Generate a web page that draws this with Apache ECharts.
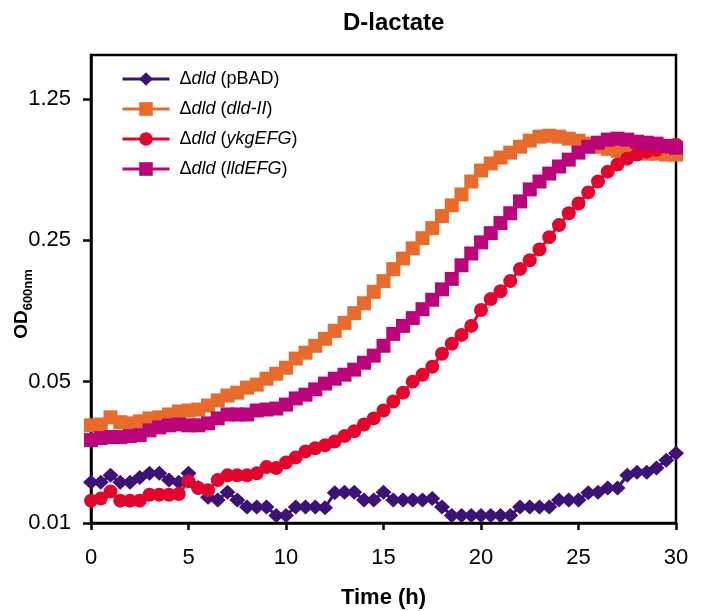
<!DOCTYPE html>
<html>
<head>
<meta charset="utf-8">
<title>D-lactate</title>
<script src="https://cdn.jsdelivr.net/npm/echarts@6/dist/echarts.min.js"></script>
<style>
    html, body { margin: 0; padding: 0; background: #fff; }
    #chart { width: 702px; height: 611px; }
</style>
</head>
<body>
<div id="chart"></div>
<script>
// sampling times (h)
const times = [0, 0.5, 1, 1.5, 2, 2.5, 3, 3.5, 4, 4.5, 5, 5.5, 6, 6.5, 7, 7.5, 8, 8.5, 9, 9.5,
    10, 10.5, 11, 11.5, 12, 12.5, 13, 13.5, 14, 14.5, 15, 15.5, 16, 16.5, 17, 17.5, 18, 18.5, 19, 19.5,
    20, 20.5, 21, 21.5, 22, 22.5, 23, 23.5, 24, 24.5, 25, 25.5, 26, 26.5, 27, 27.5, 28, 28.5, 29, 29.5, 30];

// OD600 values per strain
const pBAD = [0.0159, 0.0159, 0.0172, 0.0159, 0.0159, 0.0168, 0.0176, 0.0176, 0.0163, 0.0159,
    0.0176, 0.0150, 0.0134, 0.0130, 0.0142, 0.0130, 0.0120, 0.0120, 0.0120, 0.0109,
    0.0109, 0.0120, 0.0120, 0.0120, 0.0119, 0.0141, 0.0142, 0.0142, 0.0130, 0.0130,
    0.0142, 0.0130, 0.0130, 0.0130, 0.0130, 0.0132, 0.0120, 0.0109, 0.0109, 0.0109,
    0.0109, 0.0109, 0.0109, 0.0109, 0.0120, 0.0120, 0.0120, 0.0120, 0.0130, 0.0130,
    0.0130, 0.0141, 0.0142, 0.0149, 0.0149, 0.0172, 0.0178, 0.0178, 0.0187, 0.0204, 0.0221];
const dldII = [0.0304, 0.0307, 0.0333, 0.0315, 0.0311, 0.0318, 0.0329, 0.0333, 0.0344, 0.0356,
    0.0360, 0.0364, 0.0381, 0.0404, 0.0427, 0.0441, 0.0467, 0.0483, 0.0517, 0.0547,
    0.0586, 0.0650, 0.0695, 0.0752, 0.0814, 0.0891, 0.0976, 0.109, 0.122, 0.139,
    0.157, 0.180, 0.203, 0.228, 0.256, 0.287, 0.329, 0.372, 0.421, 0.488,
    0.553, 0.599, 0.641, 0.678, 0.725, 0.777, 0.813, 0.822, 0.813, 0.795,
    0.777, 0.751, 0.725, 0.708, 0.692, 0.684, 0.678, 0.670, 0.670, 0.663, 0.663];
const ykgEFG = [0.0129, 0.0132, 0.0143, 0.0129, 0.0129, 0.0129, 0.0138, 0.0138, 0.0138, 0.0139,
    0.0161, 0.0149, 0.0145, 0.0163, 0.0172, 0.0172, 0.0172, 0.0176, 0.0189, 0.0187,
    0.0199, 0.0211, 0.0226, 0.0234, 0.0242, 0.0253, 0.0269, 0.0284, 0.0307, 0.0329,
    0.0360, 0.0399, 0.0441, 0.0500, 0.0541, 0.0592, 0.0687, 0.0769, 0.0851, 0.0943,
    0.113, 0.128, 0.140, 0.157, 0.180, 0.199, 0.225, 0.259, 0.297, 0.340,
    0.380, 0.431, 0.488, 0.546, 0.592, 0.633, 0.663, 0.684, 0.700, 0.725, 0.742];
const lldEFG = [0.0257, 0.0263, 0.0266, 0.0266, 0.0269, 0.0272, 0.0287, 0.0297, 0.0304, 0.0307,
    0.0304, 0.0304, 0.0311, 0.0329, 0.0344, 0.0344, 0.0344, 0.0360, 0.0364, 0.0368,
    0.0385, 0.0413, 0.0431, 0.0458, 0.0489, 0.0517, 0.0541, 0.0573, 0.0620, 0.0672,
    0.0752, 0.0861, 0.0943, 0.103, 0.114, 0.127, 0.143, 0.161, 0.188, 0.215,
    0.244, 0.271, 0.304, 0.340, 0.389, 0.446, 0.488, 0.534, 0.579, 0.626,
    0.678, 0.725, 0.759, 0.786, 0.795, 0.786, 0.768, 0.759, 0.751, 0.733, 0.717];

// y axis is log base 5 starting at 0.01
const yTickLabels = ['0.01', '0.05', '0.25', '1.25'];
const xTickLabels = ['0', '5', '10', '15', '20', '25', '30'];
const Y_MIN = 0.01;
const Y_MAX = 2.06;
const toY = v => Math.log(v / Y_MIN) / Math.log(5);

const font = 'Liberation Sans, Arial, sans-serif';

// legend texts, strain names in italic
const legendLabels = {
    'pBAD': '\u0394{i|dld} (pBAD)',
    'dld-II': '\u0394{i|dld} ({i|dld-II})',
    'ykgEFG': '\u0394{i|dld} ({i|ykgEFG})',
    'lldEFG': '\u0394{i|dld} ({i|lldEFG})'
};

let seriesDefs = [
    { name: 'pBAD', values: pBAD, color: '#3d1276', symbol: 'diamond', size: [16, 15] },
    { name: 'dld-II', values: dldII, color: '#e86b2b', symbol: 'rect', size: [14, 14] },
    { name: 'ykgEFG', values: ykgEFG, color: '#e2062f', symbol: 'circle', size: 14 },
    { name: 'lldEFG', values: lldEFG, color: '#bb047a', symbol: 'rect', size: [14, 14] }
];

let chart = echarts.init(document.getElementById('chart'), null, { renderer: 'canvas' });

let option = {
    animation: false,
    backgroundColor: '#fff',
    title: {
        text: 'D-lactate',
        left: 338,
        top: 6,
        textStyle: { fontFamily: font, fontSize: 24, fontWeight: 'bold', color: '#000' }
    },
    legend: {
        orient: 'vertical',
        left: 116,
        top: 65,
        itemWidth: 47,
        itemHeight: 17,
        itemGap: 12,
        lineStyle: { width: 3 },
        formatter: function (name) {
            return legendLabels[name];
        },
        textStyle: {
            fontFamily: font,
            fontSize: 18,
            color: '#000',
            padding: [0, 0, 0, 5],
            rich: {
                i: { fontFamily: font, fontSize: 18, fontStyle: 'italic', color: '#000' }
            }
        }
    },
    grid: {
        left: 91,
        right: 26,
        top: 55,
        bottom: 88,
        containLabel: false,
        outerBoundsMode: 'none',
        show: true,
        borderColor: '#000',
        borderWidth: 2.5
    },
    xAxis: {
        type: 'value',
        min: 0,
        max: 30,
        interval: 5,
        name: 'Time (h)',
        nameLocation: 'middle',
        nameGap: 64,
        nameMoveOverlap: false,
        nameTextStyle: { fontFamily: font, fontSize: 22, fontWeight: 'bold', color: '#000' },
        axisLine: { lineStyle: { color: '#000', width: 2.5 } },
        axisTick: { inside: false, length: 7, lineStyle: { color: '#000', width: 2.5 } },
        axisLabel: {
            margin: 24,
            fontFamily: font,
            fontSize: 22,
            color: '#000',
            formatter: function (v) {
                let idx = Math.round(v / 5);
                return xTickLabels[idx] !== undefined ? xTickLabels[idx] : '';
            }
        },
        splitLine: { show: false }
    },
    yAxis: {
        type: 'value',
        min: 0,
        max: toY(Y_MAX),
        name: '{b|OD}{s|600nm}',
        nameLocation: 'middle',
        nameRotate: 90,
        nameGap: 60,
        nameMoveOverlap: false,
        nameTextStyle: {
            padding: [0, 30, 0, 0],
            rich: {
                b: { fontFamily: font, fontSize: 19, fontWeight: 'bold', color: '#000', verticalAlign: 'bottom', lineHeight: 22 },
                s: { fontFamily: font, fontSize: 13, fontWeight: 'bold', color: '#000', verticalAlign: 'bottom', lineHeight: 16, padding: [0, 0, -4, 0] }
            }
        },
        axisLine: { show: true, lineStyle: { color: '#000', width: 2.5 } },
        axisTick: { show: true, inside: false, length: 8, customValues: [0, 1, 2, 3], lineStyle: { color: '#000', width: 2.5 } },
        axisLabel: {
            margin: 20,
            fontFamily: font,
            fontSize: 22,
            color: '#000',
            customValues: [0, 1, 2, 3],
            formatter: function (v) {
                let idx = Math.round(v);
                return Math.abs(v - idx) < 1e-6 && yTickLabels[idx] ? yTickLabels[idx] : '';
            }
        },
        splitLine: { show: false }
    },
    series: seriesDefs.map(function (s) {
        return {
            name: s.name,
            type: 'line',
            data: times.map(function (t, i) { return [t, toY(s.values[i])]; }),
            symbol: s.symbol,
            symbolSize: s.size,
            showAllSymbol: true,
            color: s.color,
            itemStyle: { color: s.color },
            lineStyle: { color: s.color, width: 3 }
        };
    })
};

chart.setOption(option);
</script>
</body>
</html>
